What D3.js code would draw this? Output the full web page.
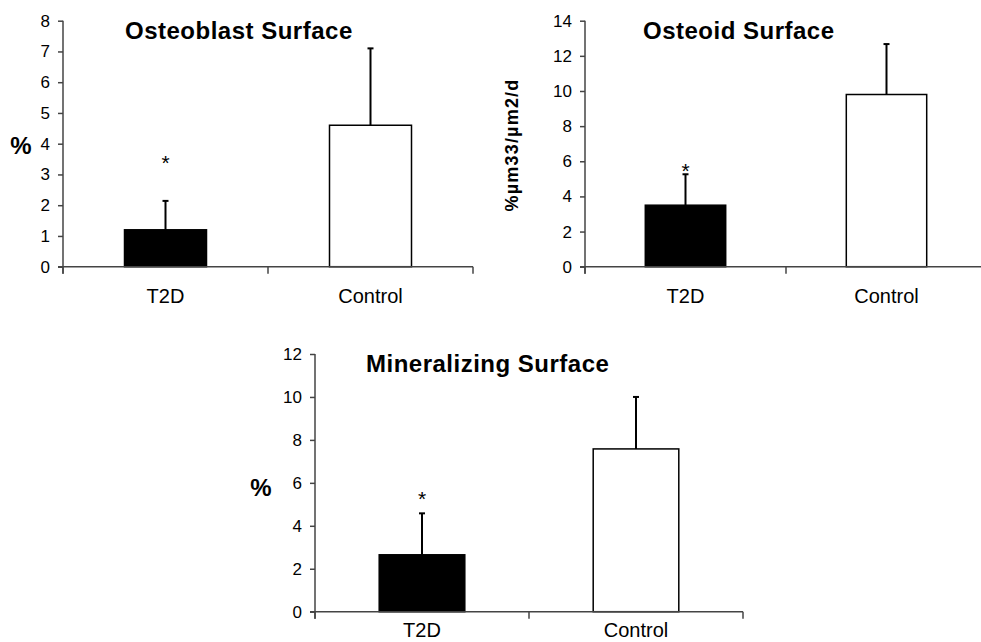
<!DOCTYPE html>
<html>
<head>
<meta charset="utf-8">
<script src="https://cdn.jsdelivr.net/npm/d3@7"></script>
<style>
  body { margin: 0; background: #fff; }
  text { font-family: Arial, "Liberation Sans", sans-serif; fill: #000; }
</style>
</head>
<body>
<div id="chart"></div>
<script>
// data
const categories = ["T2D", "Control"];
const titles = ["Osteoblast Surface", "Osteoid Surface", "Mineralizing Surface"];
const yLabels = ["%", "%µm33/µm2/d", "%"];
const yMax = [8, 14, 12];
const yTickStep = [1, 2, 2];
const means = [[1.2, 4.6], [3.5, 9.8], [2.65, 7.58]];
const errUpper = [[2.14, 7.1], [5.26, 12.67], [4.58, 10.0]];
const starValues = [3.57, 5.79, 5.53];   // "*" above T2D bar

// layout of the three panels
const panels = [
    { x0: 63,  x1: 473, yTop: 20.7, yBot: 266.7, titleX: 125, titleY: 39,  labX: 21,  labY: 145, rotate: false },
    { x0: 585, x1: 987, yTop: 20.7, yBot: 266.7, titleX: 643, titleY: 39,  labX: 512, labY: 145, rotate: true },
    { x0: 315, x1: 743, yTop: 354,  yBot: 611.7, titleX: 366, titleY: 372, labX: 261, labY: 487, rotate: false }
];

const axisColor = "#444";

const svg = d3.select("#chart")
    .append("svg")
    .attr("width", 981)
    .attr("height", 642);

panels.forEach((p, i) => {
    const g = svg.append("g");

    const y = d3.scaleLinear()
        .domain([0, yMax[i]])
        .range([p.yBot, p.yTop]);

    const x = d3.scaleBand()
        .domain(categories)
        .range([p.x0, p.x1])
        .paddingInner(0.6)
        .paddingOuter(0.3);

    // bars
    g.selectAll("rect.bar")
        .data(categories)
        .enter()
        .append("rect")
        .attr("class", "bar")
        .attr("x", d => x(d))
        .attr("width", x.bandwidth())
        .attr("y", (d, j) => y(means[i][j]))
        .attr("height", (d, j) => y(0) - y(means[i][j]))
        .attr("fill", (d, j) => j === 0 ? "#000" : "#fff")
        .attr("stroke", "#000")
        .attr("stroke-width", 1.5);

    // error bars (upper only)
    categories.forEach((c, j) => {
        const cx = x(c) + x.bandwidth() / 2;
        g.append("line")
            .attr("x1", cx).attr("x2", cx)
            .attr("y1", y(means[i][j]))
            .attr("y2", y(errUpper[i][j]))
            .attr("stroke", "#000")
            .attr("stroke-width", 2);
        g.append("line")
            .attr("x1", cx - 3).attr("x2", cx + 3)
            .attr("y1", y(errUpper[i][j]))
            .attr("y2", y(errUpper[i][j]))
            .attr("stroke", "#000")
            .attr("stroke-width", 2);
    });

    // significance star
    g.append("text")
        .attr("x", x(categories[0]) + x.bandwidth() / 2)
        .attr("y", y(starValues[i]))
        .attr("dy", "0.6em")
        .attr("text-anchor", "middle")
        .attr("font-size", 21)
        .attr("fill", "#222")
        .text("*");

    // y axis
    const yAxis = d3.axisLeft(y)
        .tickValues(d3.range(0, yMax[i] + 0.001, yTickStep[i]))
        .tickSize(5)
        .tickPadding(8)
        .tickSizeOuter(0);
    const ya = g.append("g")
        .attr("transform", `translate(${p.x0},0)`)
        .call(yAxis);
    ya.select(".domain")
        .attr("stroke", axisColor)
        .attr("stroke-width", 1.5)
        .attr("d", `M0,${p.yTop}V${p.yBot + 7}`);
    ya.selectAll(".tick line").attr("stroke", axisColor).attr("stroke-width", 1.5);
    ya.selectAll(".tick text")
        .attr("font-size", 17)
        .attr("font-family", "Arial, 'Liberation Sans', sans-serif")
        .attr("fill", "#111");

    // x axis: line with ticks at category boundaries
    g.append("line")
        .attr("x1", p.x0 - 5).attr("x2", p.x1)
        .attr("y1", y(0)).attr("y2", y(0))
        .attr("stroke", axisColor)
        .attr("stroke-width", 1.5);
    const bounds = [p.x0, (p.x0 + p.x1) / 2, p.x1];
    bounds.forEach(b => {
        g.append("line")
            .attr("x1", b).attr("x2", b)
            .attr("y1", y(0)).attr("y2", y(0) + 7)
            .attr("stroke", axisColor)
            .attr("stroke-width", 1.5);
    });

    // category labels (kept inside the 642px canvas)
    g.selectAll("text.cat")
        .data(categories)
        .enter()
        .append("text")
        .attr("class", "cat")
        .attr("x", d => x(d) + x.bandwidth() / 2)
        .attr("y", Math.min(y(0) + 36, 637))
        .attr("text-anchor", "middle")
        .attr("font-size", 20)
        .text(d => d);

    // title
    g.append("text")
        .attr("x", p.titleX)
        .attr("y", p.titleY)
        .attr("font-size", 24)
        .attr("font-weight", "bold")
        .attr("letter-spacing", 0.5)
        .text(titles[i]);

    // y label
    const lab = g.append("text")
        .attr("text-anchor", "middle")
        .attr("font-weight", "bold")
        .text(yLabels[i]);
    if (p.rotate) {
        lab.attr("transform", `translate(${p.labX + 6},${p.labY}) rotate(-90)`)
           .attr("font-size", 18)
           .attr("letter-spacing", 1.2);
    } else {
        lab.attr("x", p.labX)
           .attr("y", p.labY + 9)
           .attr("font-size", 24);
    }
});
</script>
</body>
</html>
